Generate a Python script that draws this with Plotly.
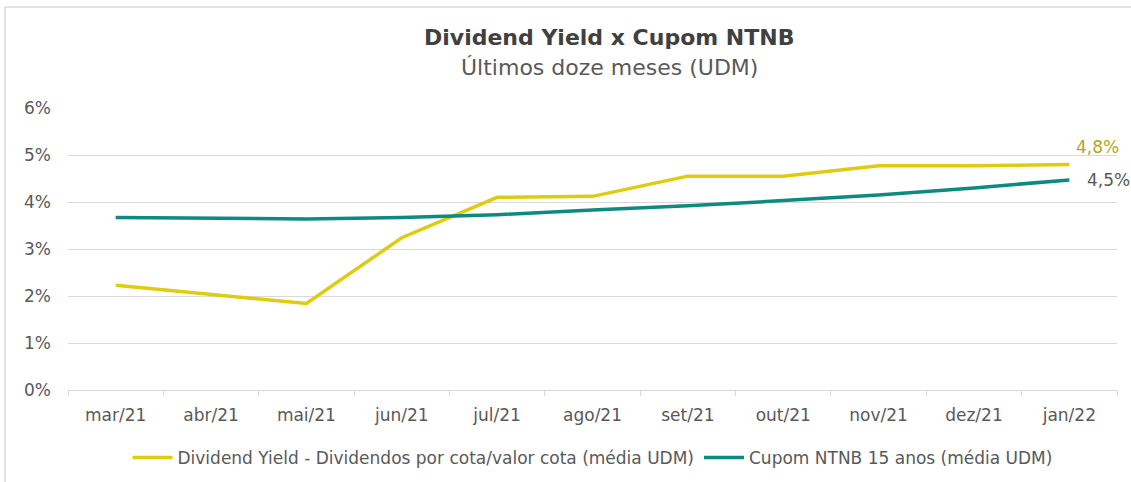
import plotly.graph_objects as go

months = ["mar/21", "abr/21", "mai/21", "jun/21", "jul/21", "ago/21",
          "set/21", "out/21", "nov/21", "dez/21", "jan/22"]
dividend_yield = [2.23, 2.04, 1.84, 3.24, 4.10, 4.12, 4.55, 4.55, 4.77, 4.77, 4.80]
cupom_ntnb = [3.67, 3.65, 3.64, 3.67, 3.73, 3.83, 3.92, 4.03, 4.15, 4.30, 4.47]
y_ticks = [0, 1, 2, 3, 4, 5, 6]
y_tick_labels = ["0%", "1%", "2%", "3%", "4%", "5%", "6%"]

W, H = 1131, 482
L, R, T, B = 68, 14, 108, 92
pw, ph = W - L - R, H - T - B

def px(x):
    return (x - L) / pw

def py(y):
    return (H - B - y) / ph

FONT = "DejaVu Sans"
YEL = "#DFCB10"
TEAL = "#0E8A80"
GRID = "#D9D9D9"

fig = go.Figure()
fig.add_trace(go.Scatter(
    x=months, y=dividend_yield, mode="lines",
    name="Dividend Yield - Dividendos por cota/valor cota (média UDM)",
    line=dict(color=YEL, width=3.5),
))
fig.add_trace(go.Scatter(
    x=months, y=cupom_ntnb, mode="lines",
    name="Cupom NTNB 15 anos (média UDM)",
    line=dict(color=TEAL, width=3.5),
))

fig.add_annotation(x=months[-1], y=dividend_yield[-1], text="4,8%",
                   showarrow=False, xshift=28, yshift=17,
                   font=dict(family=FONT, size=17, color="#B5A51F"))
fig.add_annotation(x=months[-1], y=cupom_ntnb[-1], text="4,5%",
                   showarrow=False, xshift=39, yshift=0,
                   font=dict(family=FONT, size=17, color="#595959"))

fig.add_annotation(xref="paper", yref="paper", x=px(609), y=py(37),
                   text="<b>Dividend Yield x Cupom NTNB</b>", showarrow=False,
                   xanchor="center", yanchor="middle",
                   font=dict(family=FONT, size=22, color="#404040"))
fig.add_annotation(xref="paper", yref="paper", x=px(609), y=py(67),
                   text="Últimos doze meses (UDM)", showarrow=False,
                   xanchor="center", yanchor="middle",
                   font=dict(family=FONT, size=22, color="#595959"))

# outer chart border (top and left visible)
fig.add_shape(type="line", xref="paper", yref="paper",
              x0=px(5), x1=px(W + 5), y0=py(7), y1=py(7),
              line=dict(color=GRID, width=1.5))
fig.add_shape(type="line", xref="paper", yref="paper",
              x0=px(5), x1=px(5), y0=py(7), y1=py(H + 5),
              line=dict(color=GRID, width=1.5))

fig.update_layout(
    width=W, height=H,
    margin=dict(l=L, r=R, t=T, b=B, autoexpand=False),
    plot_bgcolor="white", paper_bgcolor="white",
    font=dict(family=FONT, size=17, color="#595959"),
    showlegend=True,
    legend=dict(orientation="h", x=0.5, xanchor="center",
                yref="container", y=(H - 458) / H, yanchor="middle",
                font=dict(family=FONT, size=17, color="#595959"),
                itemwidth=40, tracegroupgap=0),
)
fig.update_xaxes(
    type="category", range=[-0.5, 10.5], automargin=False,
    showgrid=False, showline=True, linecolor=GRID, linewidth=1,
    ticks="outside", tickson="boundaries", ticklen=5, tickcolor=GRID,
    tickfont=dict(family=FONT, size=17, color="#595959"),
    ticklabelstandoff=10,
)
fig.update_yaxes(
    range=[0, 6], tickvals=y_ticks, ticktext=y_tick_labels, automargin=False,
    showgrid=True, gridcolor=GRID, gridwidth=1,
    zeroline=False, showline=False,
    tickfont=dict(family=FONT, size=17, color="#595959"),
    ticklabelstandoff=16,
)

fig.write_html("out.html")
